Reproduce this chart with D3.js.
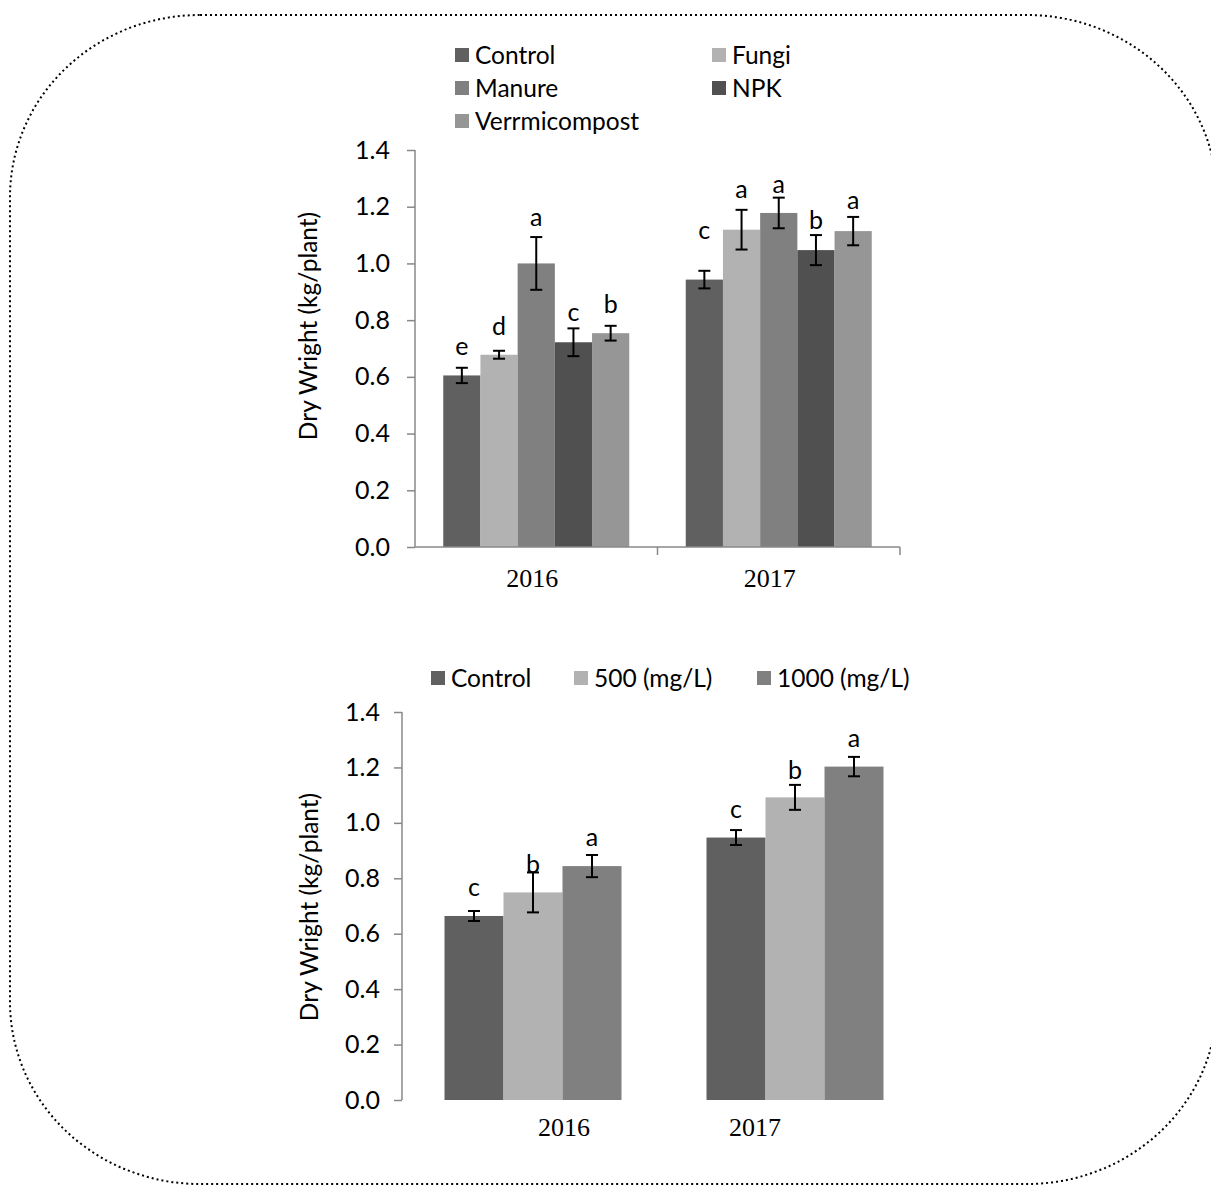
<!DOCTYPE html>
<html>
<head>
  <meta charset="utf-8">
  <script src="https://cdn.jsdelivr.net/npm/d3@7"></script>
  <style>
    body{ margin:0; background:#fff; }
    .tick-label{ font-family:Lato, "Open Sans", sans-serif; font-size:25px; fill:#000; }
    .axis-title{ font-family:Lato, "Open Sans", sans-serif; font-size:24.5px; fill:#000; }
    .legend-text{ font-family:Lato, "Open Sans", sans-serif; font-size:24.5px; fill:#000; }
    .letter{ font-family:Lato, "Open Sans", sans-serif; font-size:25px; fill:#000; }
    .year-text{ font-family:"Liberation Serif", "Times New Roman", serif; font-size:26px; fill:#000; }
  </style>
</head>
<body>
  <svg width="1211" height="1185" id="figure"></svg>
  <script>
    //categories on the x axis
    var years = ["2016", "2017"];
    var yTicks = [0, 0.2, 0.4, 0.6, 0.8, 1.0, 1.2, 1.4];

    //top chart: soil amendments
    var soilSeries = ["Control", "Fungi", "Manure", "NPK", "Verrmicompost"];
    var soilColors = ["#606060", "#b2b2b2", "#808080", "#505050", "#969696"];
    var soil2016 = [0.605, 0.678, 1.000, 0.722, 0.754];
    var soil2017 = [0.943, 1.119, 1.178, 1.047, 1.114];
    var soilErr2016 = [0.027, 0.014, 0.093, 0.049, 0.026];
    var soilErr2017 = [0.031, 0.070, 0.054, 0.053, 0.050];
    var soilLetters2016 = ["e", "d", "a", "c", "b"];
    var soilLetters2017 = ["c", "a", "a", "b", "a"];
    //value at which each letter sits (baseline)
    var soilLetterAt2016 = [0.677, 0.748, 1.132, 0.797, 0.825];
    var soilLetterAt2017 = [1.086, 1.231, 1.248, 1.120, 1.192];

    //bottom chart: spray concentration
    var spraySeries = ["Control", "500 (mg/L)", "1000 (mg/L)"];
    var sprayColors = ["#606060", "#b2b2b2", "#808080"];
    var spray2016 = [0.664, 0.749, 0.844];
    var spray2017 = [0.947, 1.092, 1.203];
    var sprayErr2016 = [0.018, 0.072, 0.040];
    var sprayErr2017 = [0.027, 0.045, 0.035];
    var sprayLetters2016 = ["c", "b", "a"];
    var sprayLetters2017 = ["c", "b", "a"];
    var sprayLetterAt2016 = [0.736, 0.819, 0.917];
    var sprayLetterAt2017 = [1.018, 1.158, 1.274];

    var svg = d3.select("svg#figure");

    //dotted rounded frame (right side runs off the page)
    svg.append("rect")
      .attr("x", 10)
      .attr("y", 15)
      .attr("width", 1207)
      .attr("height", 1169)
      .attr("rx", 190)
      .attr("ry", 182)
      .style("fill", "none")
      .style("stroke", "#000")
      .style("stroke-width", 2)
      .style("stroke-dasharray", "2,3");

    function rows(series, v16, v17, e16, e17, l16, l17, a16, a17){
      var out = [];
      series.forEach(function(s, i){
        out.push({year: "2016", series: s, i: i, value: v16[i], err: e16[i], letter: l16[i], at: a16[i]});
        out.push({year: "2017", series: s, i: i, value: v17[i], err: e17[i], letter: l17[i], at: a17[i]});
      });
      return out;
    }

    function drawChart(o){
      var g = svg.append("g");
      var y = d3.scaleLinear().domain([0, 1.4]).range([o.bottom, o.top]);
      var x0 = d3.scaleBand().domain(years).range([o.left, o.right]);
      var groupW = o.barW * o.series.length;
      var x1 = d3.scaleBand().domain(o.series).range([0, groupW]);
      var color = d3.scaleOrdinal().domain(o.series).range(o.colors);

      function barX(d){ return x0(d.year) + (x0.bandwidth() - groupW)/2 + x1(d.series); }

      //bars
      g.selectAll("rect.bar")
        .data(o.data)
        .enter().append("rect")
        .attr("class", "bar")
        .attr("x", barX)
        .attr("y", function(d){ return y(d.value); })
        .attr("width", x1.bandwidth())
        .attr("height", function(d){ return y(0) - y(d.value); })
        .style("fill", function(d){ return color(d.series); });

      //error bars
      var eg = g.append("g").style("stroke", "#000").style("stroke-width", 2).style("fill", "none");
      o.data.forEach(function(d){
        var cx = barX(d) + x1.bandwidth()/2;
        var yt = y(d.value + d.err), yb = y(d.value - d.err);
        eg.append("line").attr("x1", cx).attr("x2", cx).attr("y1", yt).attr("y2", yb);
        eg.append("line").attr("x1", cx - 6).attr("x2", cx + 6).attr("y1", yt).attr("y2", yt);
        eg.append("line").attr("x1", cx - 6).attr("x2", cx + 6).attr("y1", yb).attr("y2", yb);
      });

      //significance letters
      g.selectAll("text.letter")
        .data(o.data)
        .enter().append("text")
        .attr("class", "letter")
        .attr("text-anchor", "middle")
        .attr("x", function(d){ return barX(d) + x1.bandwidth()/2; })
        .attr("y", function(d){ return y(d.at); })
        .text(function(d){ return d.letter; });

      //y axis
      var yAxis = g.append("g")
        .attr("transform", "translate(" + o.left + ",0)")
        .call(d3.axisLeft(y).tickValues(yTicks).tickFormat(d3.format(".1f")).tickSize(8).tickPadding(o.tickPad));
      yAxis.select(".domain").attr("d", "M0," + o.top + "V" + o.bottom).style("stroke", "#888").style("stroke-width", 1.5);
      yAxis.selectAll(".tick line").style("stroke", "#888").style("stroke-width", 1.5);
      yAxis.selectAll(".tick text").attr("class", "tick-label").attr("font-family", null).attr("font-size", null);

      //x axis
      if(o.xAxis){
        var xAxis = g.append("g")
          .attr("transform", "translate(0," + o.bottom + ")");
        xAxis.append("line")
          .attr("x1", o.left).attr("x2", o.right)
          .style("stroke", "#888").style("stroke-width", 1.5);
        xAxis.selectAll("line.sep")
          .data(years)
          .enter().append("line")
          .attr("class", "sep")
          .attr("x1", function(d){ return x0(d) + x0.bandwidth(); })
          .attr("x2", function(d){ return x0(d) + x0.bandwidth(); })
          .attr("y1", 0).attr("y2", 8)
          .style("stroke", "#888").style("stroke-width", 1.5);
      }

      //year labels
      g.selectAll("text.year-text")
        .data(years)
        .enter().append("text")
        .attr("class", "year-text")
        .attr("text-anchor", "middle")
        .attr("x", function(d, i){ return x0(d) + x0.bandwidth()/2 + o.yearShift[i]; })
        .attr("y", o.bottom + o.yearDy)
        .text(function(d){ return d; });

      //y title
      g.append("text")
        .attr("class", "axis-title")
        .attr("text-anchor", "middle")
        .attr("transform", "translate(" + o.titleX + "," + o.titleY + ") rotate(-90)")
        .attr("dy", "0.35em")
        .text("Dry Wright (kg/plant)");

      //legend
      var lg = g.selectAll("g.legend")
        .data(o.series)
        .enter().append("g")
        .attr("class", "legend")
        .attr("transform", function(d, i){ return "translate(" + o.legendPos[i][0] + "," + o.legendPos[i][1] + ")"; });
      lg.append("rect")
        .attr("x", 0).attr("y", -7)
        .attr("width", 14).attr("height", 14)
        .style("fill", function(d){ return color(d); });
      lg.append("text")
        .attr("class", "legend-text")
        .attr("x", 20)
        .attr("dy", "0.35em")
        .text(function(d){ return d; });
    }

    drawChart({
      data: rows(soilSeries, soil2016, soil2017, soilErr2016, soilErr2017,
        soilLetters2016, soilLetters2017, soilLetterAt2016, soilLetterAt2017),
      series: soilSeries, colors: soilColors,
      left: 415, right: 900, top: 150, bottom: 547, barW: 37.2,
      xAxis: true, yearShift: [-4, -9], yearDy: 40, titleX: 308, titleY: 326, tickPad: 17,
      legendPos: [[455, 55], [712, 55], [455, 88], [712, 88], [455, 121]]
    });

    drawChart({
      data: rows(spraySeries, spray2016, spray2017, sprayErr2016, sprayErr2017,
        sprayLetters2016, sprayLetters2017, sprayLetterAt2016, sprayLetterAt2017),
      series: spraySeries, colors: sprayColors,
      left: 402, right: 926, top: 712, bottom: 1100, barW: 59,
      xAxis: false, yearShift: [31, -40], yearDy: 36, titleX: 309, titleY: 907, tickPad: 14,
      legendPos: [[431, 678], [574, 678], [757, 678]]
    });
  </script>
</body>
</html>
